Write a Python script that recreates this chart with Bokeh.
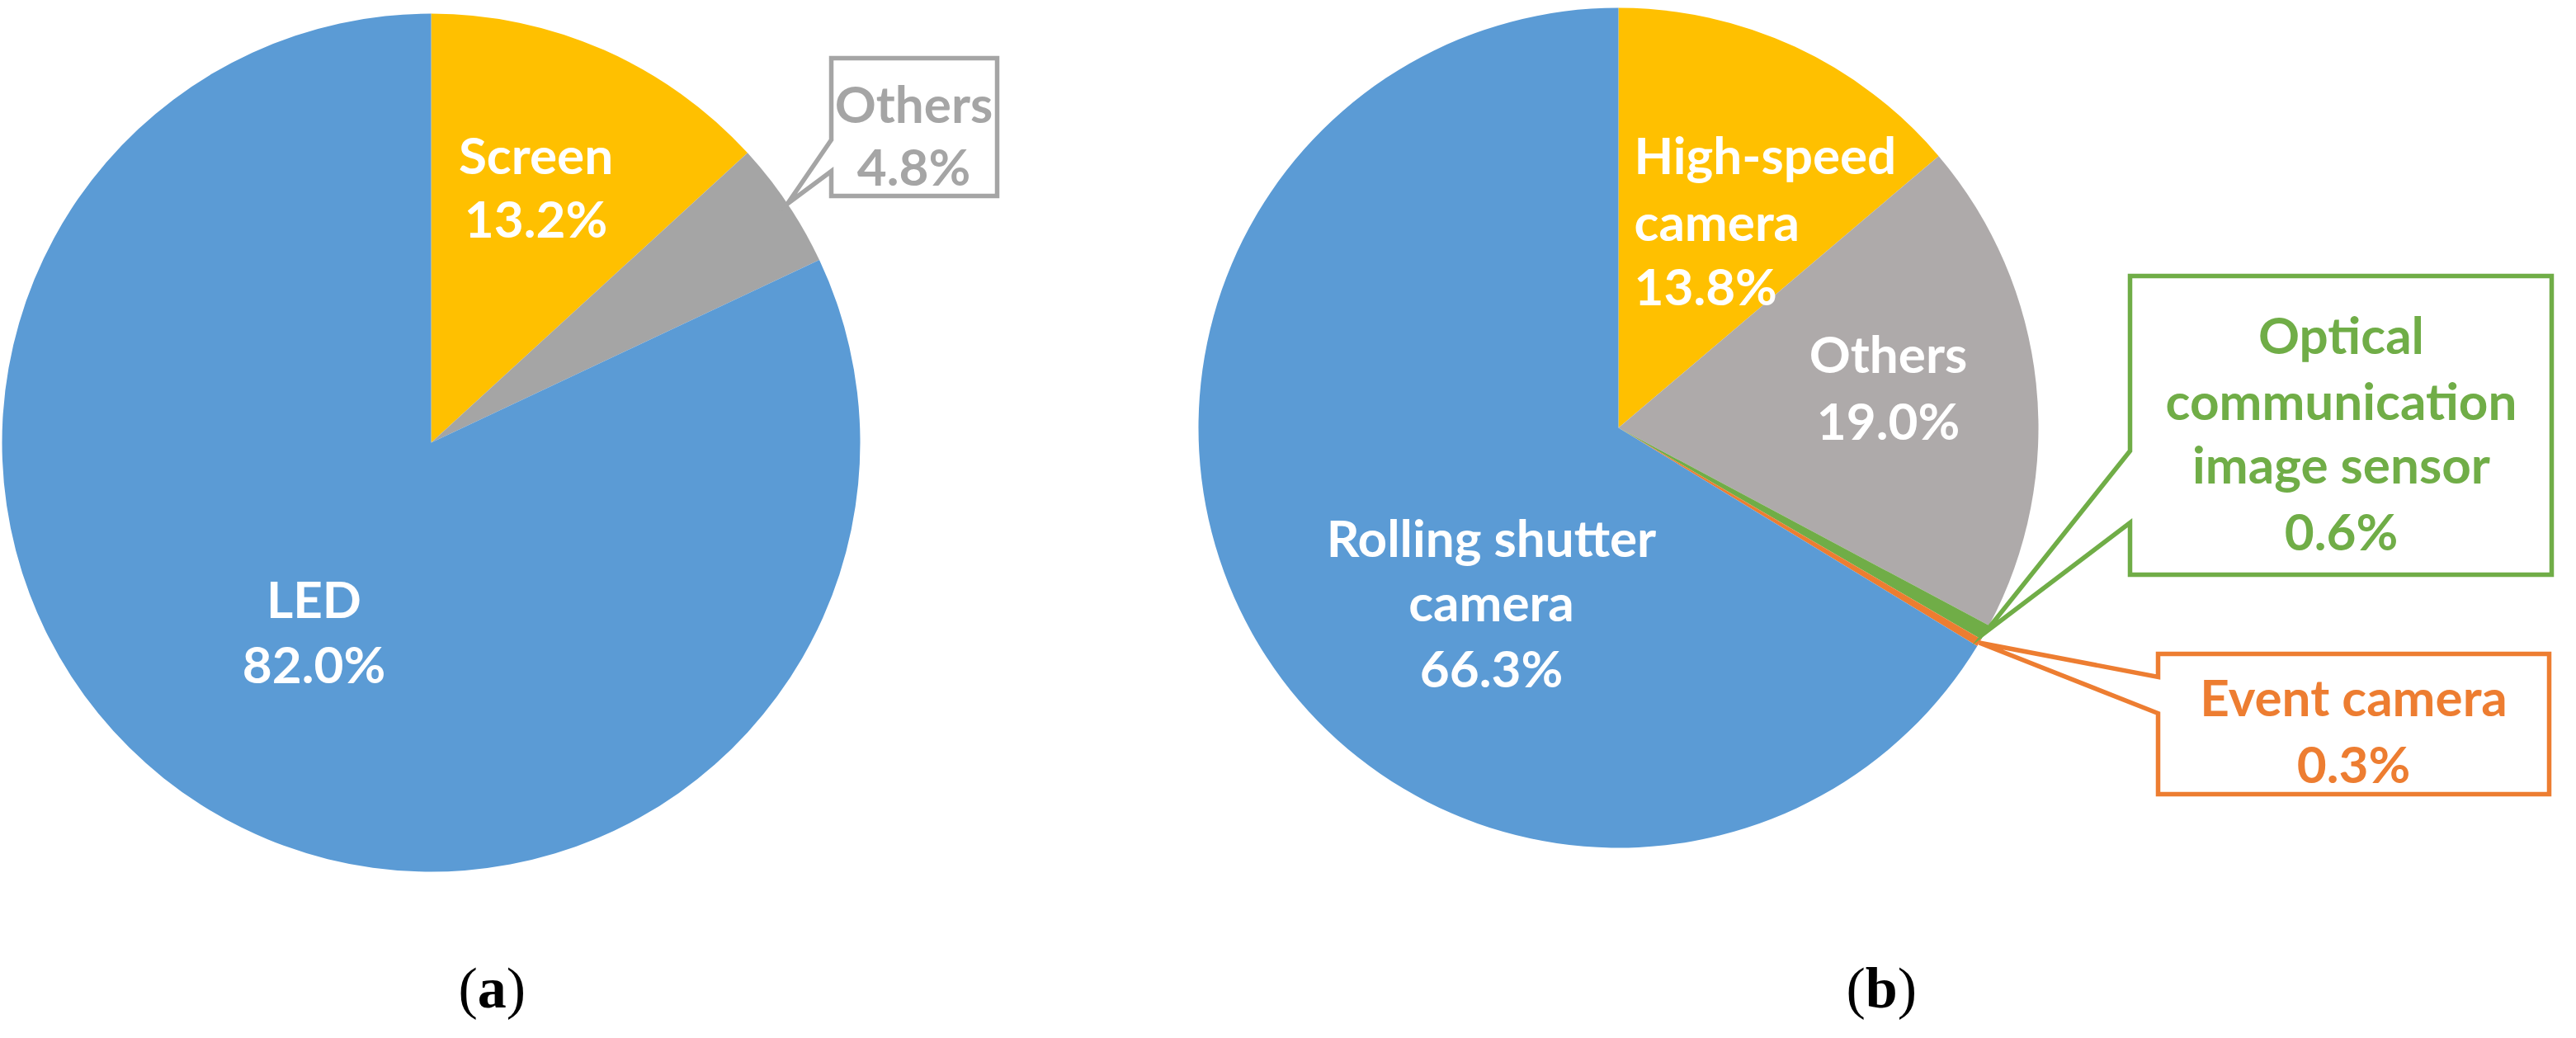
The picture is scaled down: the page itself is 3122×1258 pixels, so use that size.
import math
from bokeh.plotting import figure
from bokeh.models import Range1d, ColumnDataSource
from bokeh.embed import file_html
from bokeh.resources import INLINE
from bokeh.core.properties import value

# ---------------- data ----------------
a_categories = ["Screen", "Others", "LED"]
a_values = [13.2, 4.8, 82.0]
a_colors = ["#FFC000", "#A5A5A5", "#5B9BD5"]

b_categories = ["High-speed camera", "Others", "Optical communication image sensor",
                "Event camera", "Rolling shutter camera"]
b_values = [13.8, 19.0, 0.6, 0.3, 66.3]
b_colors = ["#FFC000", "#AEAAAA", "#70AD47", "#ED7D31", "#5B9BD5"]

captions = ["a", "b"]

# ---------------- layout (page pixels) ----------------
W, H = 3106, 1242
FONT = "Lato"
FS = "62px"
ADJ = 15  # baseline correction for svg text placement

def Y(yp):
    return 1258 - yp

def YT(yp):
    return 1258 - (yp - ADJ)

p = figure(width=W, height=H, output_backend="svg", toolbar_location=None,
           x_range=Range1d(8, 8 + W), y_range=Range1d(8, 8 + H),
           min_border=0, outline_line_color=None, background_fill_color="white",
           border_fill_color="white")
p.axis.visible = False
p.grid.visible = False


def draw_pie(cx, cy, r, vals, colors):
    total = sum(vals)
    cum = 0.0
    starts, ends = [], []
    for v in vals:
        s = cum / total
        cum += v
        e = cum / total
        starts.append(math.pi / 2 - 2 * math.pi * e)
        ends.append(math.pi / 2 - 2 * math.pi * s)
    src = ColumnDataSource(dict(x=[cx] * len(vals), y=[Y(cy)] * len(vals),
                                s=starts, e=ends, c=colors))
    p.wedge(x="x", y="y", radius=r, start_angle="s", end_angle="e",
            fill_color="c", line_color=None, source=src)


def mid_point(cx, cy, r, vals, idx):
    total = sum(vals)
    before = sum(vals[:idx])
    frac = (before + vals[idx] / 2) / total
    ang = 2 * math.pi * frac
    return cx + r * math.sin(ang), cy - r * math.cos(ang)


def label(lines, x, baselines, color, align="center"):
    p.text(x=[x] * len(lines), y=[YT(b) for b in baselines], text=lines,
           text_color=color, text_font=value(FONT), text_font_style="bold",
           text_font_size=FS, text_align=align, text_baseline="alphabetic")


def callout(box, notch, tip, color):
    l, t, rr, b = box
    xs = [l, rr, rr, l, l, tip[0], l]
    ys = [t, t, b, b, notch[1], tip[1], notch[0]]
    p.patch(xs, [Y(y) for y in ys], fill_color="white",
            line_color=color, line_width=5.5, line_join="miter")


def pct(v):
    return f"{v:.1f}%"

# ---------------- pie (a) ----------------
acx, acy, ar = 530, 544, 520
draw_pie(acx, acy, ar, a_values, a_colors)
label([a_categories[0], pct(a_values[0])], 657, [209, 286], "white")
tip = mid_point(acx, acy, ar, a_values, 1)
callout((1015, 78, 1216, 245), (177, 215), tip, a_colors[1])
label([a_categories[1], pct(a_values[1])], 1115, [147, 223], a_colors[1])
label([a_categories[2], pct(a_values[2])], 388, [747, 826], "white")

# ---------------- pie (b) ----------------
bcx, bcy, br = 1969, 526, 509
draw_pie(bcx, bcy, br, b_values, b_colors)
label(["High-speed", "camera", pct(b_values[0])], 1988, [209, 290, 368], "white", align="left")
label([b_categories[1], pct(b_values[1])], 2296, [450, 531], "white")

tip = mid_point(bcx, bcy, br, b_values, 2)
callout((2589, 342, 3100, 704), (554, 641), tip, b_colors[2])
label(["Optical", "communication", "image sensor", pct(b_values[2])], 2845,
      [427, 507, 584, 665], b_colors[2])

tip = mid_point(bcx, bcy, br, b_values, 3)
callout((2623, 800, 3097, 970), (828, 872), tip, b_colors[3])
label([b_categories[3], pct(b_values[3])], 2860, [866, 947], b_colors[3])

label(["Rolling shutter", "camera", pct(b_values[4])], 1815, [673, 751, 831], "white")

# ---------------- captions ----------------
CF = "Liberation Serif"
CSZ = 70
CS = f"{CSZ}px"
CAP_BASE = 1220
for x0, letter in zip([563, 2245], captions):
    wp = 0.333 * CSZ
    wl = (0.5 if letter == "a" else 0.556) * CSZ
    p.text(x=[x0, x0 + wl + wp], y=[YT(CAP_BASE)] * 2, text=["(", ")"], text_color="black",
           text_font=value(CF), text_font_size=CS, text_align="left",
           text_baseline="alphabetic")
    p.text(x=[x0 + wp], y=[YT(CAP_BASE)], text=[letter], text_color="black",
           text_font=value(CF), text_font_style="bold", text_font_size=CS,
           text_align="left", text_baseline="alphabetic")

open("out.html", "w").write(file_html(p, INLINE))
